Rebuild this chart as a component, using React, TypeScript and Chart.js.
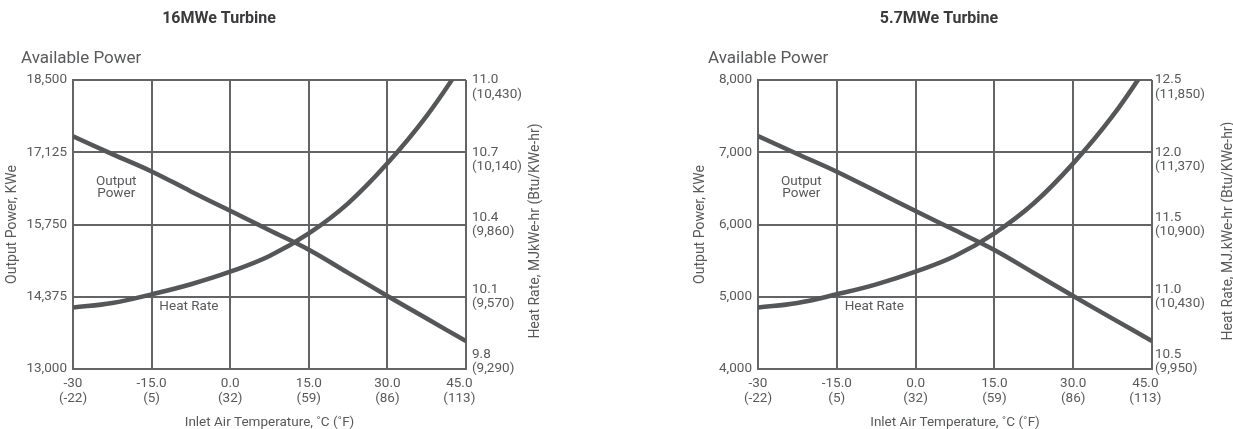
import React, { useEffect, useRef } from 'react';
import { Chart, registerables } from 'chart.js';

Chart.register(...registerables);

// ---------- data ----------
const tempC = [-30, -22.5, -15, -7.5, 0, 7.5, 15, 22.5, 30, 37.5, 45];

const power16 = [17430, 17090, 16760, 16380, 16010, 15640, 15270, 14830, 14390, 13960, 13530];
const heatRate16 = [10.055, 10.074, 10.11, 10.152, 10.204, 10.269, 10.363, 10.488, 10.654, 10.851, 11.087];

const power57 = [7225, 6976, 6731, 6459, 6187, 5919, 5647, 5329, 5011, 4697, 4388];
const heatRate57 = [10.925, 10.957, 11.017, 11.086, 11.174, 11.282, 11.439, 11.647, 11.923, 12.251, 12.645];

const xTicksC = [-30, -15, 0, 15, 30, 45];
const xTickLabelsC = ['-30', '-15.0', '0.0', '15.0', '30.0', '45.0'];
const xTickLabelsF = ['(-22)', '(5)', '(32)', '(59)', '(86)', '(113)'];

const powerTicks16 = [13000, 14375, 15750, 17125, 18500];
const heatTicks16 = [9.8, 10.1, 10.4, 10.7, 11.0];
const heatTickLabels16 = ['9.8', '10.1', '10.4', '10.7', '11.0'];
const heatTickBtu16 = ['(9,290)', '(9,570)', '(9,860)', '(10,140)', '(10,430)'];

const powerTicks57 = [4000, 5000, 6000, 7000, 8000];
const heatTicks57 = [10.5, 11.0, 11.5, 12.0, 12.5];
const heatTickLabels57 = ['10.5', '11.0', '11.5', '12.0', '12.5'];
const heatTickBtu57 = ['(9,950)', '(10,430)', '(10,900)', '(11,370)', '(11,850)'];

// ---------- styles ----------
const FONT = 'Roboto, "Open Sans", sans-serif';
const TEXT = '#58595b';
const TITLE = '#3a3a3c';
const GRID = '#636466';
const CURVE = '#555658';
const H = 429;

type Spec = {
  width: number;
  title: string;
  titleX: number;
  subX: number;
  plotLeft: number;
  plotRight: number;
  yTitleX: number;
  rTitleX: number;
  rTickPad: number;
  power: number[];
  heat: number[];
  powerTicks: number[];
  heatTicks: number[];
  heatLabels: string[];
  heatBtu: string[];
  heatTitle: string;
};

const specs: Spec[] = [
  {
    width: 616,
    title: '16MWe Turbine',
    titleX: 219,
    subX: 21,
    plotLeft: 73,
    plotRight: 466,
    yTitleX: 12.5,
    rTitleX: 535,
    rTickPad: 6,
    power: power16,
    heat: heatRate16,
    powerTicks: powerTicks16,
    heatTicks: heatTicks16,
    heatLabels: heatTickLabels16,
    heatBtu: heatTickBtu16,
    heatTitle: 'Heat Rate, MJkWe-hr (Btu/KWe-hr)',
  },
  {
    width: 617,
    title: '5.7MWe Turbine',
    titleX: 323,
    subX: 92,
    plotLeft: 142,
    plotRight: 536,
    yTitleX: 84,
    rTitleX: 612.5,
    rTickPad: 3,
    power: power57,
    heat: heatRate57,
    powerTicks: powerTicks57,
    heatTicks: heatTicks57,
    heatLabels: heatTickLabels57,
    heatBtu: heatTickBtu57,
    heatTitle: 'Heat Rate, MJ.kWe-hr (Btu/KWe-hr)',
  },
];

const textPlugin = (spec: Spec) => ({
  id: 'extraTexts',
  afterDraw(chart: any) {
    const ctx = chart.ctx as CanvasRenderingContext2D;
    const a = chart.chartArea;
    const w = a.right - a.left;
    const h = a.bottom - a.top;
    ctx.save();
    // main title
    ctx.fillStyle = TITLE;
    ctx.font = `bold 16px ${FONT}`;
    ctx.textAlign = 'center';
    ctx.textBaseline = 'alphabetic';
    ctx.fillText(spec.title, spec.titleX, 23);
    // subtitle
    ctx.fillStyle = TEXT;
    ctx.font = `17px ${FONT}`;
    ctx.textAlign = 'left';
    ctx.fillText('Available Power', spec.subX, 63);
    // inline curve labels
    ctx.font = `13.5px ${FONT}`;
    ctx.textAlign = 'center';
    ctx.textBaseline = 'middle';
    const opX = a.left + 0.11 * w;
    ctx.fillText('Output', opX, a.top + 0.352 * h);
    ctx.fillText('Power', opX, a.top + 0.393 * h);
    ctx.fillText('Heat Rate', a.left + 0.295 * w, a.top + 0.785 * h);
    // right axis title (reads bottom-to-top)
    ctx.font = `14px ${FONT}`;
    ctx.translate(spec.rTitleX, 231);
    ctx.rotate(-Math.PI / 2);
    ctx.fillText(spec.heatTitle, 0, 0);
    ctx.restore();
  },
});

function buildConfig(spec: Spec): any {
  const tickFont = { family: FONT, size: 13.5, lineHeight: 1.05 };
  const lastX = xTicksC.length - 1;
  return {
    type: 'line',
    data: {
      datasets: [
        {
          label: 'Output Power',
          data: tempC.map((t, i) => ({ x: t, y: spec.power[i] })),
          yAxisID: 'y',
          borderColor: CURVE,
          borderWidth: 4.5,
          pointRadius: 0,
          tension: 0.4,
          clip: 0,
        },
        {
          label: 'Heat Rate',
          data: tempC.map((t, i) => ({ x: t, y: spec.heat[i] })),
          yAxisID: 'y1',
          borderColor: CURVE,
          borderWidth: 4.5,
          pointRadius: 0,
          tension: 0.4,
          clip: 0,
        },
      ],
    },
    options: {
      responsive: false,
      animation: false,
      devicePixelRatio: 1,
      layout: { padding: { top: 80, bottom: 0, left: 0, right: 0 } },
      plugins: {
        legend: { display: false },
        tooltip: { enabled: false },
        title: { display: false },
      },
      scales: {
        x: {
          type: 'linear',
          min: -30,
          max: 45,
          afterBuildTicks: (s: any) => {
            s.ticks = xTicksC.map((v) => ({ value: v }));
          },
          afterFit: (s: any) => {
            s.height = H - 369;
          },
          grid: { color: GRID, lineWidth: 2, drawTicks: false },
          border: { color: GRID, width: 2 },
          ticks: {
            autoSkip: false,
            maxRotation: 0,
            minRotation: 0,
            padding: 8,
            color: TEXT,
            font: tickFont,
            callback: (_v: any, i: number) => {
              const pad = i === lastX ? '    ' : '';
              return [xTickLabelsC[i] + pad, xTickLabelsF[i] + pad];
            },
          },
          title: {
            display: true,
            text: 'Inlet Air Temperature, ˚C (˚F)',
            color: TEXT,
            font: { family: FONT, size: 13.5, lineHeight: 1.0 },
            padding: { top: 0, bottom: 0 },
          },
        },
        y: {
          type: 'linear',
          position: 'left',
          min: spec.powerTicks[0],
          max: spec.powerTicks[spec.powerTicks.length - 1],
          afterBuildTicks: (s: any) => {
            s.ticks = spec.powerTicks.map((v) => ({ value: v }));
          },
          afterFit: (s: any) => {
            s.width = spec.plotLeft;
          },
          grid: { color: GRID, lineWidth: 2, drawTicks: false },
          border: { color: GRID, width: 2 },
          ticks: {
            autoSkip: false,
            padding: 6,
            color: TEXT,
            font: tickFont,
            callback: (v: any) => Number(v).toLocaleString('en-US'),
          },
          title: {
            display: true,
            text: 'Output Power, KWe',
            color: TEXT,
            font: { family: FONT, size: 14, lineHeight: 1.2 },
            padding: { top: spec.yTitleX - 8.4, bottom: 0 },
          },
        },
        y1: {
          type: 'linear',
          position: 'right',
          min: spec.heatTicks[0],
          max: spec.heatTicks[spec.heatTicks.length - 1],
          afterBuildTicks: (s: any) => {
            s.ticks = spec.heatTicks.map((v) => ({ value: v }));
          },
          afterFit: (s: any) => {
            s.width = spec.width - spec.plotRight;
          },
          grid: { display: false, drawTicks: false },
          border: { display: false },
          ticks: {
            autoSkip: false,
            padding: spec.rTickPad,
            color: TEXT,
            font: tickFont,
            callback: (_v: any, i: number) => {
              const a = spec.heatLabels[i];
              const b = spec.heatBtu[i];
              if (i === 0) return [a, b, ''];
              if (i >= 3) return ['', a, b];
              return [a, b];
            },
          },
        },
      },
    },
    plugins: [textPlugin(spec)],
  };
}

function TurbineChart({ spec, left }: { spec: Spec; left: number }) {
  const ref = useRef<HTMLCanvasElement | null>(null);
  useEffect(() => {
    if (!ref.current) return;
    const chart = new Chart(ref.current, buildConfig(spec));
    return () => chart.destroy();
  }, [spec]);
  return (
    <div style={{ position: 'absolute', left, top: 0, width: spec.width, height: H }}>
      <canvas ref={ref} width={spec.width} height={H} style={{ display: 'block' }} />
    </div>
  );
}

export default function App() {
  return (
    <div style={{ position: 'absolute', left: 0, top: 0, width: 1233, height: H, background: '#fff' }}>
      <TurbineChart spec={specs[0]} left={0} />
      <TurbineChart spec={specs[1]} left={616} />
    </div>
  );
}
